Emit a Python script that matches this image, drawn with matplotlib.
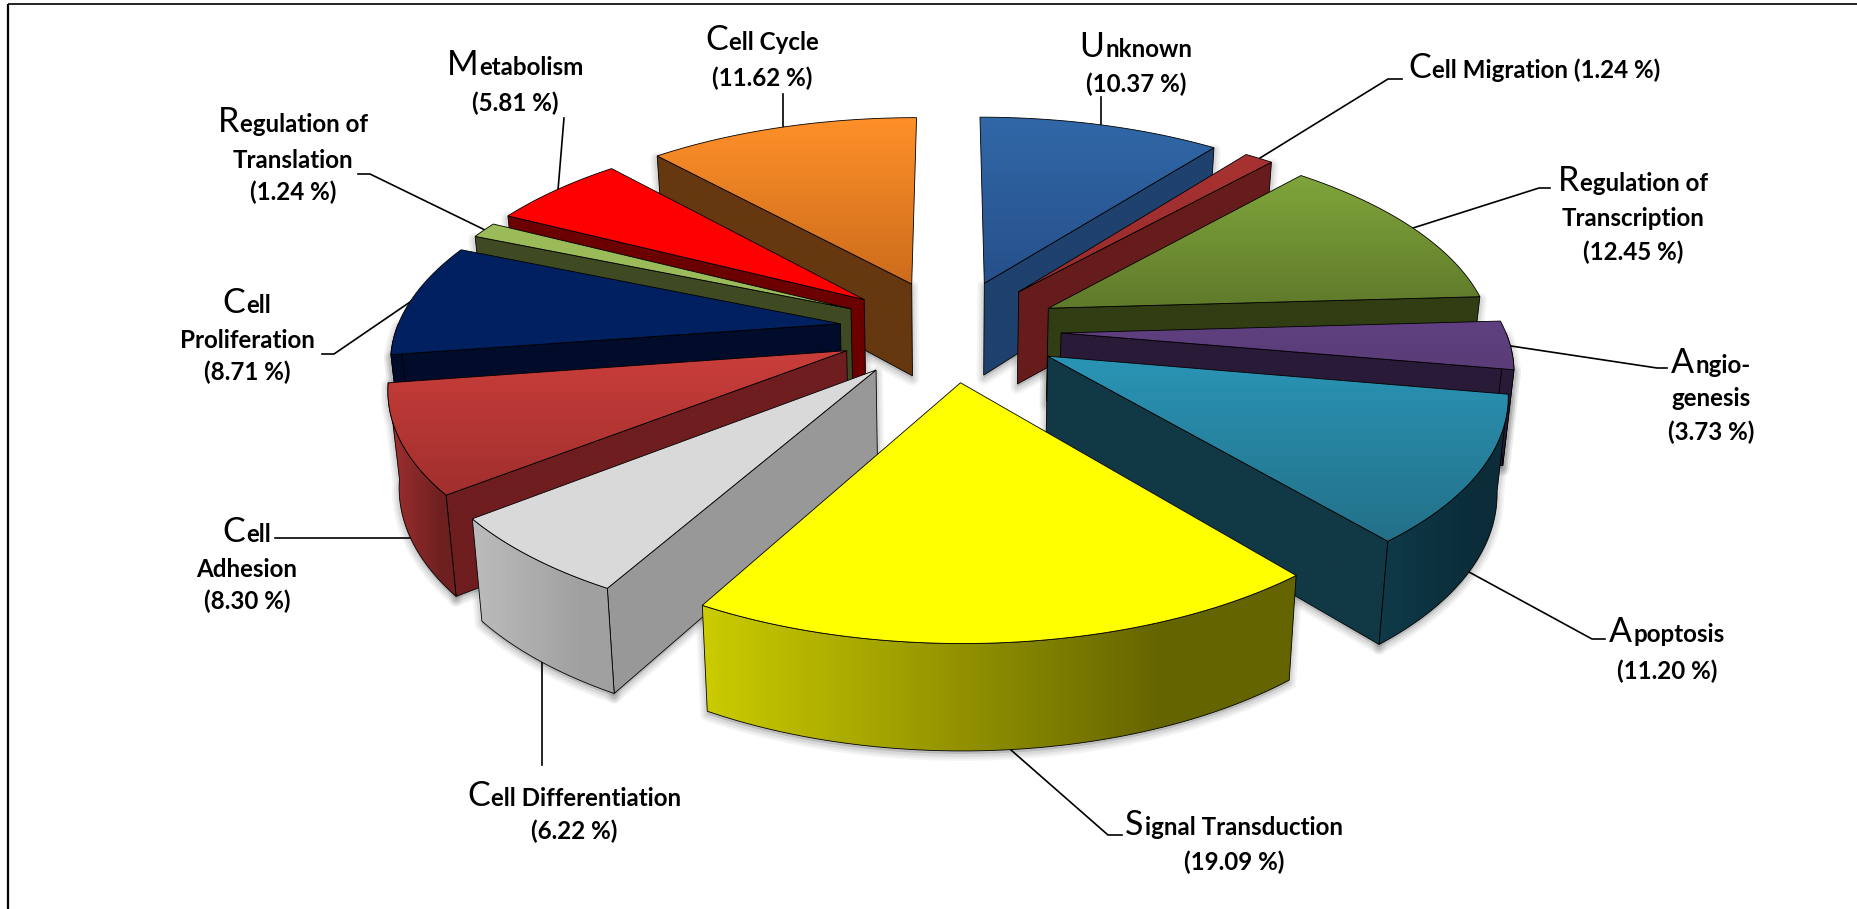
import numpy as np
import matplotlib
matplotlib.use('Agg')
import matplotlib.pyplot as plt
from matplotlib.colors import LinearSegmentedColormap
from matplotlib.patches import Polygon

# categories clockwise from 12 o'clock
categorias = ['Unknown', 'Cell Migration', 'Regulation of Transcription', 'Angiogenesis',
              'Apoptosis', 'Signal Transduction', 'Cell Differentiation', 'Cell Adhesion',
              'Cell Proliferation', 'Regulation of Translation', 'Metabolism', 'Cell Cycle']
valores = [10.37, 1.24, 12.45, 3.73, 11.20, 19.09, 6.22, 8.30, 8.71, 1.24, 5.81, 11.62]

# text of each label, one entry per line, the percentage is added from valores
lineas = [['Unknown'], ['Cell Migration'], ['Regulation of', 'Transcription'], ['Angio-', 'genesis'],
          ['Apoptosis'], ['Signal Transduction'], ['Cell Differentiation'], ['Cell', 'Adhesion'],
          ['Cell', 'Proliferation'], ['Regulation of', 'Translation'], ['Metabolism'], ['Cell Cycle']]

# colours: top face (upper, lower), radial wall, outer wall (left, right)
top_a = ['#3168A8', '#A83232', '#80A53B', '#604080', '#2A95B6', '#FFFF00',
         '#D9D9D9', '#CA3E3B', '#002060', '#9BBB59', '#FF0000', '#FF9029']
top_b = ['#26508A', '#982C2C', '#5F7A2B', '#5A3C78', '#237088', '#FFFF00',
         '#D9D9D9', '#A02F2D', '#002060', '#9BBB59', '#FF0000', '#CC6C1C']
pared = ['#1F416E', '#671C1C', '#313D13', '#291A38', '#113845', '#666600',
         '#989898', '#6F1D1F', '#000C2A', '#3F4A22', '#6C0000', '#66380F']
rim_a = ['#1F416E', '#671C1C', '#313D13', '#291A38', '#0F3A48', '#CCCC00',
         '#BCBCBC', '#A03030', '#000C2A', '#3F4A22', '#6C0000', '#66380F']
rim_b = ['#1F416E', '#671C1C', '#313D13', '#291A38', '#0B2C38', '#646400',
         '#A0A0A0', '#6E2020', '#000C2A', '#3F4A22', '#6C0000', '#66380F']

# label layout: centre x and baseline of every line, in pixels
label_x = [1136, 1534, 1633, 1711, 1667, 1234, 574, 247, 247, 293, 515, 762]
label_y = [[57, 92], [78], [191, 226, 260], [373, 406, 440], [642, 679], [835, 870],
           [806, 839], [542, 577, 609], [313, 348, 380], [132, 168, 200], [75, 111], [50, 86]]
lineas_guia = [[(1101, 97), (1101, 125)],
               [(1260, 158), (1388, 79), (1402, 79)],
               [(1413, 228), (1539, 188), (1550, 188)],
               [(1511, 346), (1657, 368), (1667, 368)],
               [(1469, 572), (1592, 639), (1605, 639)],
               [(1011, 750), (1108, 835), (1122, 835)],
               [(542, 661), (542, 765)],
               [(275, 538), (413, 538)],
               [(322, 354), (334, 354), (413, 300)],
               [(358, 174), (370, 174), (485, 230)],
               [(564, 118), (558, 190)],
               [(783, 94), (783, 127)]]

# pie geometry
CX, CY = 950, 330
RX, RY = 444, 204
K = 0.15
EXPLODE = 0.25
DEPTH = 94
W, H = 1858, 909

plt.rcParams['font.family'] = ['Lato', 'DejaVu Sans']

fig = plt.figure(figsize=(W / 100, H / 100), dpi=100)
ax = fig.add_axes([0, 0, 1, 1])


def proyectar(u, v, abajo=False):
    s = 1 + K * v
    x = CX + RX * u / s
    y = CY - RY * v / s
    if abajo:
        x = CX + (x - CX) * 0.98
        y = y + DEPTH / (1 + 0.1 * v)
    return np.column_stack([np.atleast_1d(x), np.atleast_1d(y)])


def pintar(pts, c0, c1, horizontal, z):
    borde = Polygon(pts, closed=True, fc='none', ec='black', lw=0.6, zorder=z + 0.1)
    ax.add_patch(borde)
    x0, y0 = pts.min(axis=0)
    x1, y1 = pts.max(axis=0)
    grad = np.linspace(0, 1, 256).reshape(1, -1) if horizontal else np.linspace(0, 1, 256).reshape(-1, 1)
    # the outer walls reach their dark colour before the right end
    paradas = [(0, c0), (0.78, c1), (1, c1)] if horizontal else [(0, c0), (1, c1)]
    cmap = LinearSegmentedColormap.from_list('g', paradas)
    im = ax.imshow(grad, cmap=cmap, extent=(x0, x1, y1, y0), aspect='auto',
                   interpolation='bilinear', zorder=z)
    im.set_clip_path(borde)


def sombra(pts):
    for lw, alpha in [(10, 0.07), (7, 0.09), (4, 0.13)]:
        ax.add_patch(Polygon(pts + [0, 3], closed=True, fc='#707070', ec='#707070',
                             lw=lw, alpha=alpha, zorder=1, joinstyle='round'))


cortes = np.concatenate([[0], np.cumsum(valores)]) / np.sum(valores) * 360
orden = [11, 10, 9, 8, 7, 6, 0, 1, 2, 3, 4, 5]

z = 2
for i in orden:
    a0, a1 = cortes[i], cortes[i + 1]
    med = np.radians((a0 + a1) / 2)
    u0, v0 = EXPLODE * np.sin(med), EXPLODE * np.cos(med)
    t = np.radians(np.linspace(a0, a1, 60))
    u, v = u0 + np.sin(t), v0 + np.cos(t)
    cara = np.vstack([proyectar(u0, v0), proyectar(u, v)])

    # the radial wall that faces the viewer
    a_r = a1 if (a0 + a1) / 2 < 180 else a0
    ur, vr = u0 + np.sin(np.radians(a_r)), v0 + np.cos(np.radians(a_r))
    radial = np.vstack([proyectar(u0, v0), proyectar(ur, vr),
                        proyectar(ur, vr, True), proyectar(u0, v0, True)])

    # the outer wall, only the part turned to the front
    ini, fin = max(a0, 90), min(a1, 270)
    exterior = None
    if fin > ini:
        tf = np.radians(np.linspace(ini, fin, 60))
        uf, vf = u0 + np.sin(tf), v0 + np.cos(tf)
        exterior = np.vstack([proyectar(uf, vf), proyectar(uf, vf, True)[::-1]])

    if i != 5:
        sombra(radial)
        pintar(radial, pared[i], pared[i], False, z)
    if exterior is not None:
        sombra(exterior)
        pintar(exterior, rim_a[i], rim_b[i], True, z + 1)
    pintar(cara, top_a[i], top_b[i], False, z + 2)
    z += 3

for guia in lineas_guia:
    xs, ys = zip(*guia)
    ax.plot(xs, ys, color='black', lw=1.2, zorder=1.5, solid_joinstyle='miter')

renderer = fig.canvas.get_renderer()


def linea_grande(x, y, texto):
    # first letter large and thin, the rest bold, centred as one line
    cap = ax.text(0, y, texto[0], fontsize=24.5, fontweight='normal', va='baseline', ha='left', zorder=90)
    resto = ax.text(0, y, texto[1:], fontsize=17.4, fontweight='bold', va='baseline', ha='left', zorder=90)
    w0 = cap.get_window_extent(renderer).width + 1
    w1 = resto.get_window_extent(renderer).width
    cap.set_x(x - (w0 + w1) / 2)
    resto.set_x(x - (w0 + w1) / 2 + w0)


for i, nombre in enumerate(categorias):
    pct = f'({valores[i]:.2f} %)'
    filas = lineas[i]
    if len(label_y[i]) == 1:
        linea_grande(label_x[i], label_y[i][0], filas[0] + ' ' + pct)
        continue
    linea_grande(label_x[i], label_y[i][0], filas[0])
    for texto, y in zip(filas[1:] + [pct], label_y[i][1:]):
        ax.text(label_x[i], y, texto, fontsize=17.4, fontweight='bold', ha='center', va='baseline', zorder=90)

# frame, only left and top are inside the picture
ax.plot([8, 8], [H, 4], color='black', lw=1.6, zorder=95, solid_capstyle='butt')
ax.plot([8, W], [4, 4], color='black', lw=1.2, zorder=95, solid_capstyle='butt')

ax.set_xlim(0, W)
ax.set_ylim(H, 0)
ax.axis('off')
fig.savefig('out.png', dpi=100, facecolor='white')
